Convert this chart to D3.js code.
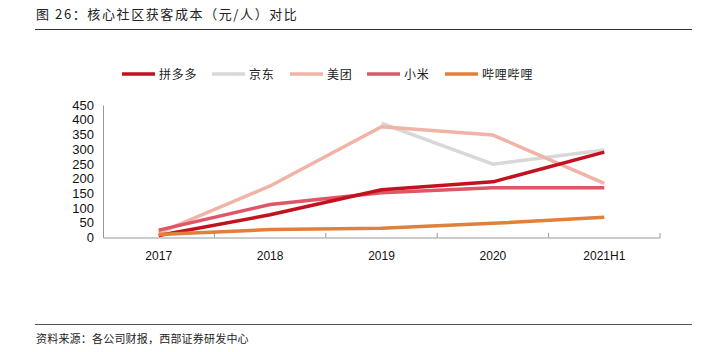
<!DOCTYPE html>
<html><head><meta charset="utf-8">
<script src="https://cdn.jsdelivr.net/npm/d3@7"></script>
<style>body{margin:0;background:#fff}svg{display:block}</style>
</head><body><svg id="c" width="716" height="352"></svg>
<script>
const categories = ["2017","2018","2019","2020","2021H1"];
const seriesNames = ["拼多多","京东","美团","小米","哔哩哔哩"];
const pdd = [7, 77, 162, 189, 290];
const jd = [null, null, 388, 249, 297];
const meituan = [15, 175, 376, 348, 184];
const xiaomi = [25, 112, 152, 169, 169];
const bilibili = [10, 27, 31, 48, 69];
const yTicks = [0,50,100,150,200,250,300,350,400,450];
const colors = ["#c3111f","#d8d8d8","#f0b3a6","#df5667","#e0803a"];
const seriesValues = [pdd, jd, meituan, xiaomi, bilibili];

const svg = d3.select("#c");
const cjk = "'Noto Sans CJK SC', sans-serif";
const lat = "'Liberation Sans', Arial, sans-serif";

svg.append("text").attr("x",36).attr("y",19).attr("font-family",cjk).attr("font-size",13).attr("letter-spacing",1.6).attr("fill","#222").text("图 26：核心社区获客成本（元/人）对比");
svg.append("line").attr("x1",35).attr("x2",692).attr("y1",29.5).attr("y2",29.5).attr("stroke","#333").attr("stroke-width",1);
svg.append("line").attr("x1",35).attr("x2",692).attr("y1",324.5).attr("y2",324.5).attr("stroke","#555").attr("stroke-width",1);
svg.append("text").attr("x",36).attr("y",343).attr("font-family",cjk).attr("font-size",11).attr("letter-spacing",0.2).attr("fill","#222").text("资料来源：各公司财报，西部证券研发中心");

const x = d3.scaleBand().domain(categories).range([103,660]).padding(0);
const y = d3.scaleLinear().domain([0,450]).range([237.5,105]);

// y axis
const ya = svg.append("g").attr("transform","translate(103,0)")
  .call(d3.axisLeft(y).tickValues(yTicks).tickSize(0).tickPadding(9));
ya.select(".domain").attr("stroke","#999");
ya.selectAll("text").attr("font-family",lat).attr("font-size",13).attr("fill","#111");

// x axis
const xa = svg.append("g").attr("transform","translate(0,237.5)")
  .call(d3.axisBottom(x).tickSize(0).tickPadding(14));
xa.select(".domain").attr("stroke","#999");
xa.selectAll("text").attr("font-family",lat).attr("font-size",12).attr("fill","#111");
// inward boundary ticks
const bounds = categories.map(c=>x(c)).concat([x(categories[categories.length-1])+x.bandwidth()]);
svg.append("g").selectAll("line").data(bounds.slice(1)).join("line")
  .attr("x1",d=>d).attr("x2",d=>d).attr("y1",237.5).attr("y2",233).attr("stroke","#999");

const line = d3.line().defined(d=>d.v!=null).x(d=>x(d.c)+x.bandwidth()/2).y(d=>y(d.v));
const order = [1,2,3,0,4];
order.forEach(i=>{
  const data = categories.map((c,j)=>({c, v: seriesValues[i][j]}));
  svg.append("path").attr("d",line(data)).attr("fill","none").attr("stroke",colors[i]).attr("stroke-width",3.5).attr("stroke-linejoin","round");
});

// legend
const lx = [122,212,290,367,445];
seriesNames.forEach((n,i)=>{
  svg.append("line").attr("x1",lx[i]).attr("x2",lx[i]+33).attr("y1",74).attr("y2",74).attr("stroke",colors[i]).attr("stroke-width",3.5);
  svg.append("text").attr("x",lx[i]+37).attr("y",78.5).attr("font-family",cjk).attr("font-size",12).attr("letter-spacing",0.8).attr("fill","#222").text(n);
});
</script></body></html>
